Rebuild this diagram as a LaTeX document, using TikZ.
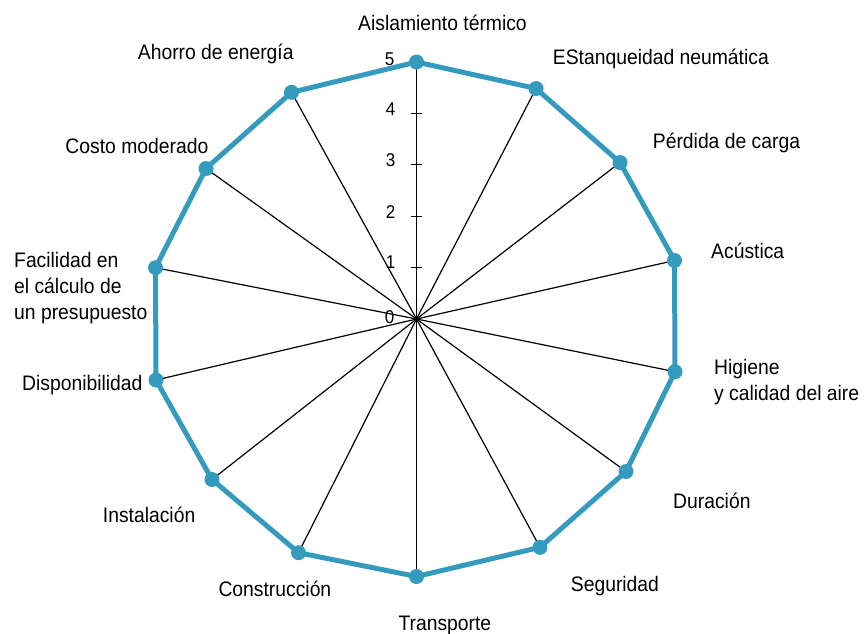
\documentclass[tikz,border=0pt]{standalone}
\usepackage{fontspec}
\setmainfont{Liberation Sans}[FakeStretch=0.92]
\definecolor{radarblue}{RGB}{52,154,190}
\begin{document}
\begin{tikzpicture}[x=1pt,y=-1pt,
  lbl/.style={inner sep=0pt,font=\fontsize{21}{26}\selectfont},
  num/.style={inner sep=0pt,font=\fontsize{18.5}{20}\selectfont},
  spoke/.style={line width=1.2pt,black},
  outline/.style={line width=5pt,radarblue,line join=round},
  dot/.style={circle,fill=radarblue,inner sep=0pt,minimum size=15pt}]
\useasboundingbox (0,0) rectangle (866,633);
\coordinate (O) at (416.5,319);
\coordinate (p1) at (416.5,62);
\coordinate (p2) at (536,88.5);
\coordinate (p3) at (620,162.5);
\coordinate (p4) at (674.5,260.5);
\coordinate (p5) at (675,371.7);
\coordinate (p6) at (626,471.5);
\coordinate (p7) at (540,547.3);
\coordinate (p8) at (416.5,576.5);
\coordinate (p9) at (298.5,552.7);
\coordinate (p10) at (212,479.5);
\coordinate (p11) at (156,380);
\coordinate (p12) at (155.5,267.7);
\coordinate (p13) at (206,168.5);
\coordinate (p14) at (291.5,92.3);
% spokes
\foreach \i in {1,...,14} \draw[spoke] (O) -- (p\i);
% ticks
\foreach \k/\yy in {1/267.6,2/216.2,3/164.8,4/113.4}
  \draw[spoke] (411,\yy) -- (422,\yy);
\node[num,anchor=base] (n0) at (389.5,323.5) {0};
\node[num,anchor=base] (n1) at (390.5,268.5) {1};
\node[num,anchor=base] (n2) at (390.5,218) {2};
\node[num,anchor=base] (n3) at (390.5,166) {3};
\node[num,anchor=base] (n4) at (390.5,115) {4};
\node[num,anchor=base] (n5) at (389.5,65) {5};
% outline
\draw[outline] (p1) \foreach \i in {2,...,14} {-- (p\i)} -- cycle;
\foreach \i in {1,...,14} \node[dot] (d\i) at (p\i) {};
% labels
\node[lbl,anchor=base west] (l1) at (358,30.5) {Aislamiento térmico};
\node[lbl,anchor=base west] (l2) at (552.7,64.3) {EStanqueidad neumática};
\node[lbl,anchor=base west] (l3) at (652.7,148.3) {Pérdida de carga};
\node[lbl,anchor=base west] (l4) at (711,258.3) {Acústica};
\node[lbl,anchor=base west] (l5a) at (714,374.3) {Higiene};
\node[lbl,anchor=base west] (l5b) at (714,400) {y calidad del aire};
\node[lbl,anchor=base west] (l6) at (673,508) {Duración};
\node[lbl,anchor=base west] (l7) at (570.7,591.7) {Seguridad};
\node[lbl,anchor=base west] (l8) at (398.3,630) {Transporte};
\node[lbl,anchor=base west] (l9) at (218.3,596.7) {Construcción};
\node[lbl,anchor=base west] (l10) at (102.7,522.3) {Instalación};
\node[lbl,anchor=base east] (l11) at (142.7,390) {Disponibilidad};
\node[lbl,anchor=base west] (l12a) at (14,267.7) {Facilidad en};
\node[lbl,anchor=base west] (l12b) at (14,293.7) {el cálculo de};
\node[lbl,anchor=base west] (l12c) at (14,319.7) {un presupuesto};
\node[lbl,anchor=base east] (l13) at (208.5,153.5) {Costo moderado};
\node[lbl,anchor=base west] (l14) at (137.7,59.5) {Ahorro de energía};
\end{tikzpicture}
\end{document}
